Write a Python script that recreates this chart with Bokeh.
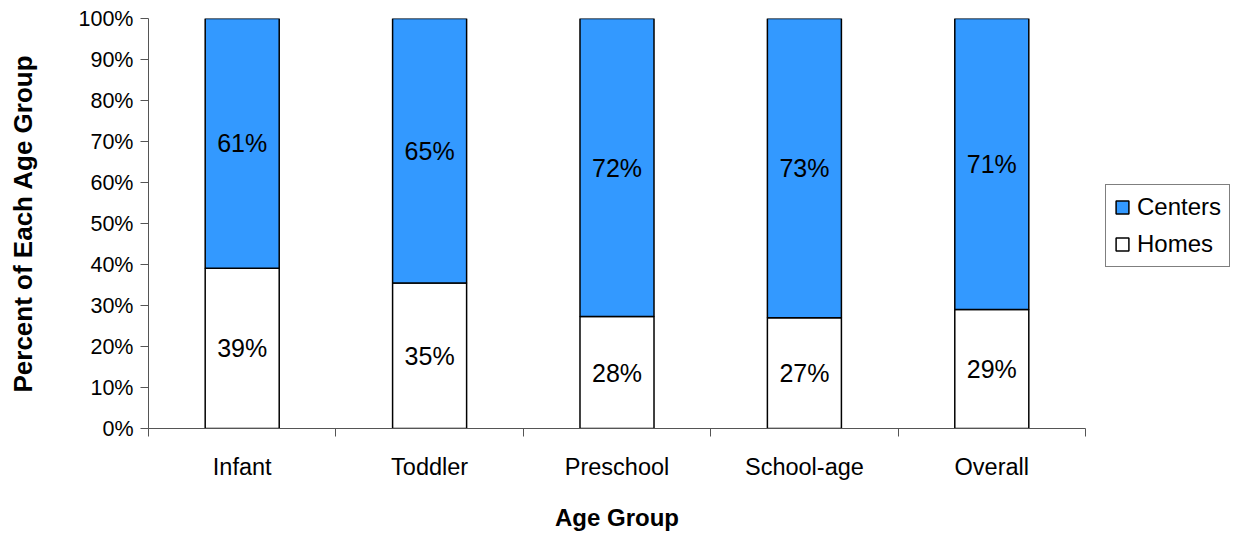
import numpy as np
from bokeh.plotting import figure
from bokeh.layouts import row
from bokeh.models import (Range1d, FixedTicker, PrintfTickFormatter, Legend,
                          LegendItem, ColumnDataSource)
from bokeh.core.properties import value
from bokeh.embed import file_html
from bokeh.resources import INLINE

# ---- data ----
categories = ["Infant", "Toddler", "Preschool", "School-age", "Overall"]
homes = [39.1, 35.5, 27.3, 27.0, 29.0]
centers = [60.9, 64.5, 72.7, 73.0, 71.0]
homes_labels = ["39%", "35%", "28%", "27%", "29%"]
centers_labels = ["61%", "65%", "72%", "73%", "71%"]
series_names = ["Centers", "Homes"]
y_ticks = [0, 10, 20, 30, 40, 50, 60, 70, 80, 90, 100]

FONT = "Liberation Sans"
BLUE = "#3399FF"
BAR_W = 0.395

x = np.arange(len(categories)) + 0.5
homes_a = np.array(homes)
centers_a = np.array(centers)

src = ColumnDataSource(dict(
    x=x,
    homes=homes_a,
    top=homes_a + centers_a,
    homes_mid=homes_a / 2,
    centers_mid=homes_a + centers_a / 2,
    hl=homes_labels,
    cl=centers_labels,
))

p = figure(width=1095, height=533,
           x_range=Range1d(0, len(categories)), y_range=Range1d(0, 100),
           output_backend="svg", toolbar_location=None,
           min_border_left=148, min_border_right=10,
           min_border_top=18, min_border_bottom=105)
p.outline_line_color = None
p.grid.visible = False
p.background_fill_color = "white"
p.border_fill_color = "white"

r_homes = p.vbar(x="x", bottom=0, top="homes", width=BAR_W, source=src,
                 fill_color="white", line_color="black", line_width=1.5)
r_centers = p.vbar(x="x", bottom="homes", top="top", width=BAR_W, source=src,
                   fill_color=BLUE, line_color="black", line_width=1.5)

p.text(x="x", y="homes_mid", text="hl", source=src, text_align="center",
       text_baseline="middle", text_font=value(FONT), text_font_size="25px",
       text_color="black")
p.text(x="x", y="centers_mid", text="cl", source=src, text_align="center",
       text_baseline="middle", text_font=value(FONT), text_font_size="25px",
       text_color="black")

# ---- y axis ----
ya = p.yaxis[0]
ya.ticker = FixedTicker(ticks=y_ticks, minor_ticks=[])
ya.formatter = PrintfTickFormatter(format="%d%%")
ya.major_tick_out = 8
ya.major_tick_in = 0
ya.minor_tick_line_color = None
ya.axis_line_color = "#555555"
ya.major_tick_line_color = "#555555"
ya.major_label_standoff = 7
ya.major_label_text_font = FONT
ya.major_label_text_font_size = "21.5px"
ya.major_label_text_color = "black"
ya.axis_label = "Percent of Each Age Group"
ya.axis_label_text_font = FONT
ya.axis_label_text_font_size = "26px"
ya.axis_label_text_font_style = "bold"
ya.axis_label_text_color = "black"
ya.axis_label_standoff = 38

# ---- x axis ----
xa = p.xaxis[0]
xa.ticker = FixedTicker(ticks=list(x), minor_ticks=list(range(len(categories) + 1)))
xa.major_label_overrides = {float(v): c for v, c in zip(x, categories)}
xa.major_tick_line_color = None
xa.major_tick_out = 0
xa.major_tick_in = 0
xa.minor_tick_out = 8
xa.minor_tick_in = 0
xa.minor_tick_line_color = "#555555"
xa.axis_line_color = "#555555"
xa.major_label_standoff = 17
xa.major_label_text_font = FONT
xa.major_label_text_font_size = "23.5px"
xa.major_label_text_color = "black"
xa.axis_label = "Age Group"
xa.axis_label_text_font = FONT
xa.axis_label_text_font_size = "24px"
xa.axis_label_text_font_style = "bold"
xa.axis_label_text_color = "black"
xa.axis_label_standoff = 21

# ---- legend (in a narrow side figure, using hidden copies of the bars) ----
p2 = figure(width=145, height=533, output_backend="svg", toolbar_location=None,
            x_axis_type=None, y_axis_type=None,
            min_border_left=0, min_border_right=0,
            min_border_top=0, min_border_bottom=0)
p2.outline_line_color = None
p2.background_fill_color = "white"
p2.border_fill_color = "white"
l_centers = p2.vbar(x="x", bottom="homes", top="top", width=BAR_W, source=src,
                    fill_color=BLUE, line_color="black", line_width=1.5,
                    visible=False)
l_homes = p2.vbar(x="x", bottom=0, top="homes", width=BAR_W, source=src,
                  fill_color="white", line_color="black", line_width=1.5,
                  visible=False)

legend = Legend(items=[LegendItem(label=series_names[0], renderers=[l_centers]),
                       LegendItem(label=series_names[1], renderers=[l_homes])],
                location=(10, 161))
legend.border_line_color = "black"
legend.border_line_width = 1
legend.background_fill_color = "white"
legend.background_fill_alpha = 1
legend.label_text_font = FONT
legend.label_text_font_size = "24px"
legend.label_text_color = "black"
legend.glyph_width = 16
legend.glyph_height = 16
legend.label_standoff = 7
legend.padding = 8
legend.spacing = 9
legend.label_height = 26
legend.margin = 0
legend.click_policy = "none"
p2.add_layout(legend)

layout = row(p, p2)
open("out.html", "w").write(file_html(layout, INLINE))
